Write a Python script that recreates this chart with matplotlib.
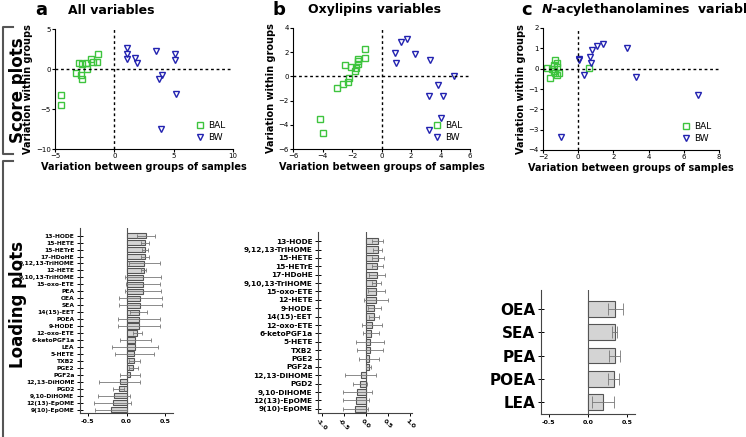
import matplotlib
matplotlib.use("Agg")
import matplotlib.pyplot as plt
from matplotlib.lines import Line2D
import numpy as np

W, H = 746, 437
# ---------- data ----------
a_bal_x = [-4.5, -4.5, -3.0, -2.7, -2.4, -2.0, -1.8, -1.5, -1.4, -2.3, -3.2, -2.8, -2.7]
a_bal_y = [-3.2, -4.5, 0.7, 0.6, 0.8, 1.3, 0.9, 0.9, 1.9, 0.0, -0.5, -0.7, -1.2]
a_bw_x = [1.1, 1.1, 1.1, 1.7, 1.9, 3.5, 5.1, 5.1, 4.0, 3.8, 5.2, 3.9]
a_bw_y = [2.6, 1.9, 1.3, 1.4, 0.8, 2.3, 1.9, 1.1, -0.8, -1.2, -3.1, -7.5]

b_bal_x = [-4.2, -4.0, -3.0, -2.6, -2.3, -2.2, -2.5, -2.1, -1.8, -1.7, -1.6, -1.6, -1.1, -1.1, -1.6]
b_bal_y = [-3.5, -4.7, -1.0, -0.6, -0.5, -0.15, 0.95, 0.75, 0.45, 0.7, 1.3, 1.4, 2.3, 1.5, 1.0]
b_bw_x = [0.9, 0.95, 1.3, 1.7, 2.3, 3.3, 4.9, 3.8, 3.2, 4.2, 4.0, 3.2]
b_bw_y = [1.9, 1.1, 2.85, 3.05, 1.85, 1.35, 0.0, -0.7, -1.6, -1.65, -3.45, -4.4]

c_bal_x = [-1.8, -1.6, -1.5, -1.4, -1.3, -1.2, -1.2, -1.3, -1.1, -1.4, -1.2, 0.6]
c_bal_y = [0.05, -0.45, 0.0, 0.2, 0.45, 0.3, 0.1, -0.2, -0.2, -0.1, -0.3, 0.05]
c_bw_x = [0.05, 0.05, 0.35, 0.65, 0.75, 0.8, 1.05, 1.4, 2.75, 3.3, 6.8, -1.0]
c_bw_y = [0.5, 0.45, -0.3, 0.55, 0.3, 0.9, 1.1, 1.2, 1.0, -0.4, -1.3, -3.35]

a_names = ["13-HODE", "15-HETE", "15-HETrE", "17-HDoHE", "9,12,13-TriHOME", "12-HETE",
           "9,10,13-TriHOME", "15-oxo-ETE", "PEA", "OEA", "SEA", "14(15)-EET", "POEA",
           "9-HODE", "12-oxo-ETE", "6-ketoPGF1a", "LEA", "5-HETE", "TXB2", "PGE2", "PGF2a",
           "12,13-DiHOME", "PGD2", "9,10-DiHOME", "12(13)-EpOME", "9(10)-EpOME"]
a_vals = [0.25, 0.24, 0.24, 0.24, 0.23, 0.22, 0.21, 0.21, 0.21, 0.18, 0.18, 0.16, 0.16,
          0.16, 0.14, 0.11, 0.11, 0.10, 0.10, 0.09, 0.05, -0.09, -0.10, -0.16, -0.18, -0.20]
a_errs = [0.12, 0.05, 0.04, 0.05, 0.20, 0.03, 0.23, 0.22, 0.23, 0.28, 0.28, 0.11, 0.27,
          0.27, 0.06, 0.20, 0.30, 0.25, 0.07, 0.06, 0.13, 0.27, 0.07, 0.21, 0.24, 0.21]

b_names = ["13-HODE", "9,12,13-TriHOME", "15-HETE", "15-HETrE", "17-HDoHE", "9,10,13-TriHOME",
           "15-oxo-ETE", "12-HETE", "9-HODE", "14(15)-EET", "12-oxo-ETE", "6-ketoPGF1a",
           "5-HETE", "TXB2", "PGE2", "PGF2a", "12,13-DiHOME", "PGD2", "9,10-DiHOME",
           "12(13)-EpOME", "9(10)-EpOME"]
b_vals = [0.27, 0.27, 0.27, 0.26, 0.25, 0.24, 0.24, 0.23, 0.19, 0.18, 0.14, 0.12, 0.10,
          0.10, 0.08, 0.06, -0.12, -0.14, -0.20, -0.22, -0.24]
b_errs = [0.13, 0.10, 0.14, 0.13, 0.19, 0.10, 0.20, 0.27, 0.15, 0.12, 0.22, 0.18, 0.32,
          0.30, 0.23, 0.06, 0.36, 0.16, 0.33, 0.30, 0.28]

c_names = ["OEA", "SEA", "PEA", "POEA", "LEA"]
c_vals = [0.35, 0.34, 0.34, 0.33, 0.19]
c_errs = [0.10, 0.03, 0.07, 0.07, 0.14]

GREEN = "#3ec43e"
BLUE = "#2222b0"

fig = plt.figure(figsize=(W / 100, H / 100), dpi=100)


def ax_px(l, r, t, b):
    return fig.add_axes([l / W, 1 - b / H, (r - l) / W, (b - t) / H])


def score(l, r, t, b, bx, by, wx, wy, xlim, ylim, xt, yt):
    ax = ax_px(l, r, t, b)
    ax.plot(bx, by, ls="none", marker="s", mfc="none", mec=GREEN, mew=1.0, ms=4.5, label="BAL")
    ax.plot(wx, wy, ls="none", marker="v", mfc="none", mec=BLUE, mew=1.0, ms=5, label="BW")
    ax.axhline(0, color="k", ls=(0, (2, 2)), lw=1)
    ax.axvline(0, color="k", ls=(0, (2, 2)), lw=1)
    ax.set_xlim(xlim)
    ax.set_ylim(ylim)
    ax.set_xticks(xt)
    ax.set_yticks(yt)
    for s in ["top", "right"]:
        ax.spines[s].set_visible(False)
    ax.tick_params(labelsize=5, length=2, width=0.8, pad=1)
    ax.set_xlabel("Variation between groups of samples", fontsize=7, fontweight="bold", labelpad=2)
    ax.set_ylabel("Variation within groups", fontsize=7, fontweight="bold", labelpad=2)
    ax.legend(loc="lower right", frameon=False, fontsize=6.5, handletextpad=0.3,
              borderpad=0.3, labelspacing=0.3, handlelength=1.2)
    return ax


score(55, 233, 29, 149, a_bal_x, a_bal_y, a_bw_x, a_bw_y, (-5, 10), (-10, 5), [-5, 0, 5, 10], [-10, -5, 0, 5])
score(293, 470, 28, 149, b_bal_x, b_bal_y, b_bw_x, b_bw_y, (-6, 6), (-6, 4), [-6, -4, -2, 0, 2, 4, 6], [-6, -4, -2, 0, 2, 4])
score(543, 719, 28, 150, c_bal_x, c_bal_y, c_bw_x, c_bw_y, (-2, 8), (-4, 2), [-2, 0, 2, 4, 6, 8], [-4, -3, -2, -1, 0, 1, 2])


def loading(l, r, t, b, names, vals, errs, xlim, xt, xtl, fs, rot=0, bh=0.75):
    ax = ax_px(l, r, t, b)
    y = np.arange(len(names))
    ax.barh(y, vals, height=bh, color="#d4d4d4", edgecolor="#555555", lw=0.8, zorder=2)
    ax.errorbar(vals, y, xerr=errs, fmt="none", ecolor="#777777", elinewidth=0.6,
                capsize=1.5 if fs < 8 else 4, capthick=0.6, zorder=3)
    ax.axvline(0, color="#555555", lw=0.8, zorder=1)
    ax.set_yticks(y)
    ax.set_yticklabels(names, fontsize=fs, fontweight="bold")
    ax.set_ylim(len(names) - 0.5, -0.5 - (0.6 if fs < 8 else 0.3))
    ax.set_xlim(xlim)
    ax.set_xticks(xt)
    ax.set_xticklabels(xtl, fontsize=4.5, fontweight="bold", rotation=rot)
    for s in ["top", "right"]:
        ax.spines[s].set_visible(False)
    for s in ["left", "bottom"]:
        ax.spines[s].set_color("#444444")
    ax.tick_params(axis="y", direction="inout", length=4, width=0.7, pad=2)
    ax.tick_params(axis="x", length=2, width=0.7, pad=2)
    return ax


loading(80, 173, 228, 413, a_names, a_vals, a_errs, (-0.6, 0.6), [-0.5, 0, 0.5], ["-0.5", "0.0", "0.5"], 4.3)
loading(318, 412, 232, 413, b_names, b_vals, b_errs, (-1.09, 1.05), [-1, -0.5, 0, 0.5, 1],
        ["-1.0", "-0.5", "0.0", "0.5", "1.0"], 5.3, rot=-45)
loading(541, 635, 290, 414, c_names, c_vals, c_errs, (-0.6, 0.6), [-0.5, 0, 0.5], ["-0.5", "0.0", "0.5"], 11, bh=0.68)

# titles
fig.text(35 / W, 1 - 10 / H, "a", fontsize=13, fontweight="bold", va="center")
fig.text(68 / W, 1 - 10 / H, "All variables", fontsize=9, fontweight="bold", va="center")
fig.text(273 / W, 1 - 10 / H, "b", fontsize=13, fontweight="bold", va="center")
fig.text(308 / W, 1 - 10 / H, "Oxylipins variables", fontsize=9, fontweight="bold", va="center")
fig.text(521 / W, 1 - 10 / H, "c", fontsize=13, fontweight="bold", va="center")
fig.text(541 / W, 1 - 10 / H, r"$\bfit{N}$-acylethanolamines  variables", fontsize=9,
         fontweight="bold", va="center")

# side brackets and labels
fig.add_artist(Line2D(np.array([13, 3, 3, 13]) / W, 1 - np.array([27, 27, 154, 154]) / H,
                      color="#555555", lw=1.5))
fig.add_artist(Line2D(np.array([13, 3, 3]) / W, 1 - np.array([161, 161, 437]) / H,
                      color="#555555", lw=1.5))
fig.text(18 / W, 1 - 90 / H, "Score plots", rotation=90, fontsize=12, fontweight="bold",
         ha="center", va="center")
fig.text(18 / W, 1 - 305 / H, "Loading plots", rotation=90, fontsize=12, fontweight="bold",
         ha="center", va="center")

fig.savefig("out.png", dpi=100)
